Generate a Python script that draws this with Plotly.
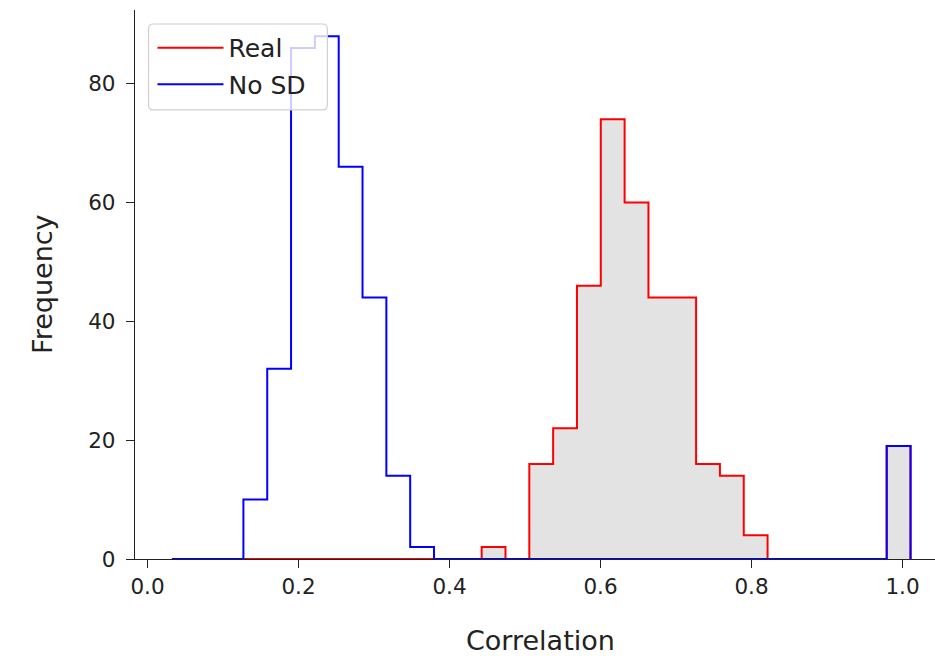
import numpy as np
import plotly.graph_objects as go

# ---- data ----
BIN_MIN = 0.0323
BIN_MAX = 1.0106
N_BINS = 31
real_counts = [0, 0, 0, 0, 0, 0, 0, 0, 0, 0, 0, 0, 0, 2, 0,
               16, 22, 46, 74, 60, 44, 44, 16, 14, 4,
               0, 0, 0, 0, 0, 19]
nosd_counts = [0, 0, 0, 10, 32, 86, 88, 66, 44, 14, 2,
               0, 0, 0, 0, 0, 0, 0, 0, 0, 0, 0, 0, 0, 0, 0, 0, 0, 0, 0, 19]
series_names = ["Real", "No SD"]
x_ticks = [0.0, 0.2, 0.4, 0.6, 0.8, 1.0]
y_ticks = [0, 20, 40, 60, 80]

edges = np.linspace(BIN_MIN, BIN_MAX, N_BINS + 1)


def step_xy(counts):
    xs = [edges[0]] + list(edges) + [edges[-1]]
    ys = [0] + list(counts) + [counts[-1], 0]
    return xs, ys


W, H = 935, 656
L, R, T, B = 134.5, 0, 10, 96.7
PW = W - L - R
PH = H - T - B


def px_x(p):
    return (p - L) / PW


def px_y(p):
    return (H - B - p) / PH


FONT = "DejaVu Sans"
fig = go.Figure()

rx, ry = step_xy(real_counts)
# grey fill of the "Real" histogram (no legend entry)
fig.add_trace(go.Scatter(
    x=rx, y=ry, mode="lines", line_shape="hv", showlegend=False,
    line=dict(color="rgba(0,0,0,0)", width=0), fill="tozeroy",
    fillcolor="#e3e3e3", hoverinfo="skip"))
fig.add_trace(go.Scatter(
    x=rx, y=ry, mode="lines", line_shape="hv", name=series_names[0],
    line=dict(color="#ff0000", width=2), legendgroup="a"))
bx, by = step_xy(nosd_counts)
fig.add_trace(go.Scatter(
    x=bx, y=by, mode="lines", line_shape="hv", name=series_names[1],
    line=dict(color="#0000ff", width=2), legendgroup="b"))

# rounded legend frame
x0, x1 = px_x(148), px_x(327)
y0, y1 = px_y(110), px_y(24)
rr = 5
dx, dy = rr / PW, rr / PH
path = (f"M{x0+dx},{y0} L{x1-dx},{y0} Q{x1},{y0} {x1},{y0+dy} "
        f"L{x1},{y1-dy} Q{x1},{y1} {x1-dx},{y1} L{x0+dx},{y1} "
        f"Q{x0},{y1} {x0},{y1-dy} L{x0},{y0+dy} Q{x0},{y0} {x0+dx},{y0} Z")
fig.add_shape(type="path", path=path, xref="paper", yref="paper",
              fillcolor="rgba(255,255,255,0.8)",
              line=dict(color="#d0d0d0", width=1.2), layer="above")

axis_common = dict(
    showline=True, linecolor="#222222", linewidth=1.3,
    ticks="outside", ticklen=8, tickwidth=1.3, tickcolor="#222222",
    showgrid=False, zeroline=False, mirror=False,
    tickfont=dict(family=FONT, size=21.5, color="#222222"),
)

fig.update_layout(
    width=W, height=H,
    margin=dict(l=L, r=R, t=T, b=B, pad=0),
    plot_bgcolor="white", paper_bgcolor="white",
    font=dict(family=FONT, color="#222222"),
    xaxis=dict(range=[-0.0166, 1.043], tickvals=x_ticks,
               ticktext=[f"{v:.1f}" for v in x_ticks],
               ticklabelstandoff=0, **axis_common),
    yaxis=dict(range=[0, 92.4], tickvals=y_ticks,
               ticktext=[str(v) for v in y_ticks],
               ticklabelstandoff=6, **axis_common),
    showlegend=True,
    legend=dict(x=px_x(152), y=px_y(25), xanchor="left", yanchor="top",
                bgcolor="rgba(0,0,0,0)", borderwidth=0,
                font=dict(family=FONT, size=25, color="#222222"),
                traceorder="grouped", tracegroupgap=1, itemwidth=66),
    annotations=[
        dict(text="Correlation", xref="paper", yref="paper",
             x=px_x(540), y=px_y(641), xanchor="center", yanchor="middle",
             showarrow=False, font=dict(family=FONT, size=27, color="#222222")),
        dict(text="Frequency", xref="paper", yref="paper",
             x=px_x(42), y=px_y(284.5), xanchor="center", yanchor="middle",
             textangle=-90, showarrow=False,
             font=dict(family=FONT, size=27, color="#222222")),
    ],
)

fig.write_html(
    "out.html",
    config={"displayModeBar": False},
    post_script="document.body.style.margin='0';document.body.style.padding='0';",
)
